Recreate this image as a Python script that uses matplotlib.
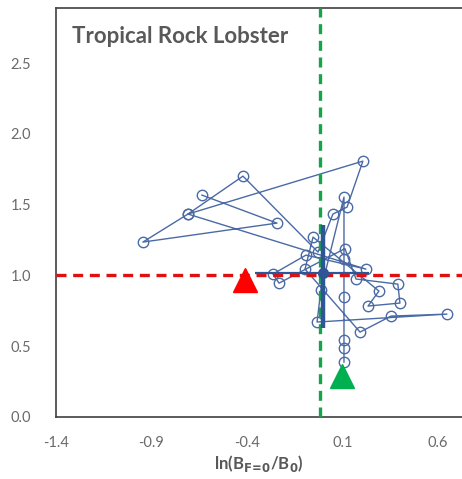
import numpy as np
import matplotlib.pyplot as plt

# trajectory (in plotting order)
traj_x = [-0.636, -0.243, -0.945, -0.709, -0.421, -0.028, 0.05, 0.124, 0.207, -0.709,
          0.223, -0.091, -0.264, -0.232, 0.113, 0.171, 0.39, 0.401, 0.234, 0.291,
          -0.054, -0.096, 0.192, 0.354, 0.647, -0.033, -0.013,
          0.108, 0.108, 0.108, 0.108, 0.108, 0.108]
traj_y = [1.568, 1.37, 1.236, 1.434, 1.702, 1.165, 1.434, 1.483, 1.808, 1.434,
          1.045, 1.144, 1.01, 0.946, 1.19, 0.975, 0.939, 0.805, 0.784, 0.89,
          1.271, 1.045, 0.60, 0.713, 0.727, 0.671, 0.897,
          1.554, 1.116, 0.847, 0.544, 0.487, 0.388]

# current estimate with uncertainty
est_x, est_y = 0.0, 1.017
est_xerr = [[0.36], [0.24]]
est_yerr = [[0.39], [0.34]]

red_tri = (-0.41, 0.97)
green_tri = (0.10, 0.29)
vline_x = -0.018
hline_y = 1.0

xticks = [-1.4, -0.9, -0.4, 0.1, 0.6]
yticks = [0.0, 0.5, 1.0, 1.5, 2.0, 2.5]

plt.rcParams['font.family'] = ['Lato', 'DejaVu Sans']
grey = '#595959'

fig = plt.figure(figsize=(4.62, 4.79), dpi=100)
ax = fig.add_axes([56/462, 62/479, 406/462, 409/479])

ax.plot(traj_x, traj_y, '-o', color='#4a6aa5', lw=1.0, ms=7.5,
        mfc='none', mec='#4a6aa5', mew=1.0, zorder=3)

ax.axhline(hline_y, color='#e01010', lw=2.4, ls=(0, (3, 2)), zorder=4)
ax.axvline(vline_x, color='#17a34a', lw=2.4, ls=(0, (3, 2)), zorder=4)

ax.errorbar([est_x], [est_y], xerr=est_xerr, fmt='none', ecolor='#2f5597',
            elinewidth=1.6, capsize=0, zorder=5)
ax.errorbar([est_x], [est_y], yerr=est_yerr, fmt='o', color='#2f5597',
            ms=7, elinewidth=3.2, capsize=0, zorder=6)

ax.plot(*red_tri, marker='^', color='#ff0000', ms=17, ls='none', zorder=7)
ax.plot(*green_tri, marker='^', color='#00b050', ms=17, ls='none', zorder=7)

ax.set_xlim(-1.4, 0.726)
ax.set_ylim(0, 2.89)
ax.set_xticks(xticks)
ax.set_xticklabels([f'{v:.1f}' for v in xticks])
ax.set_yticks(yticks)
ax.set_yticklabels([f'{v:.1f}' for v in yticks])
ax.tick_params(length=0, labelsize=10.5, colors='#6a6a6a', pad=14)
ax.tick_params(axis='y', pad=18)

for s in ['left', 'bottom', 'top']:
    ax.spines[s].set_color('#404040')
    ax.spines[s].set_linewidth(1.2)
ax.spines['right'].set_visible(False)

ax.set_xlabel(r'ln(B$_{\mathbf{F\!=\!0}}$/B$_{\mathbf{0}}$)', fontsize=12,
              fontweight='bold', color=grey, labelpad=2)
ax.text(0.04, 0.93, 'Tropical Rock Lobster', transform=ax.transAxes,
        fontsize=16, fontweight='bold', color=grey, va='center')

fig.savefig('out.png', dpi=100)
